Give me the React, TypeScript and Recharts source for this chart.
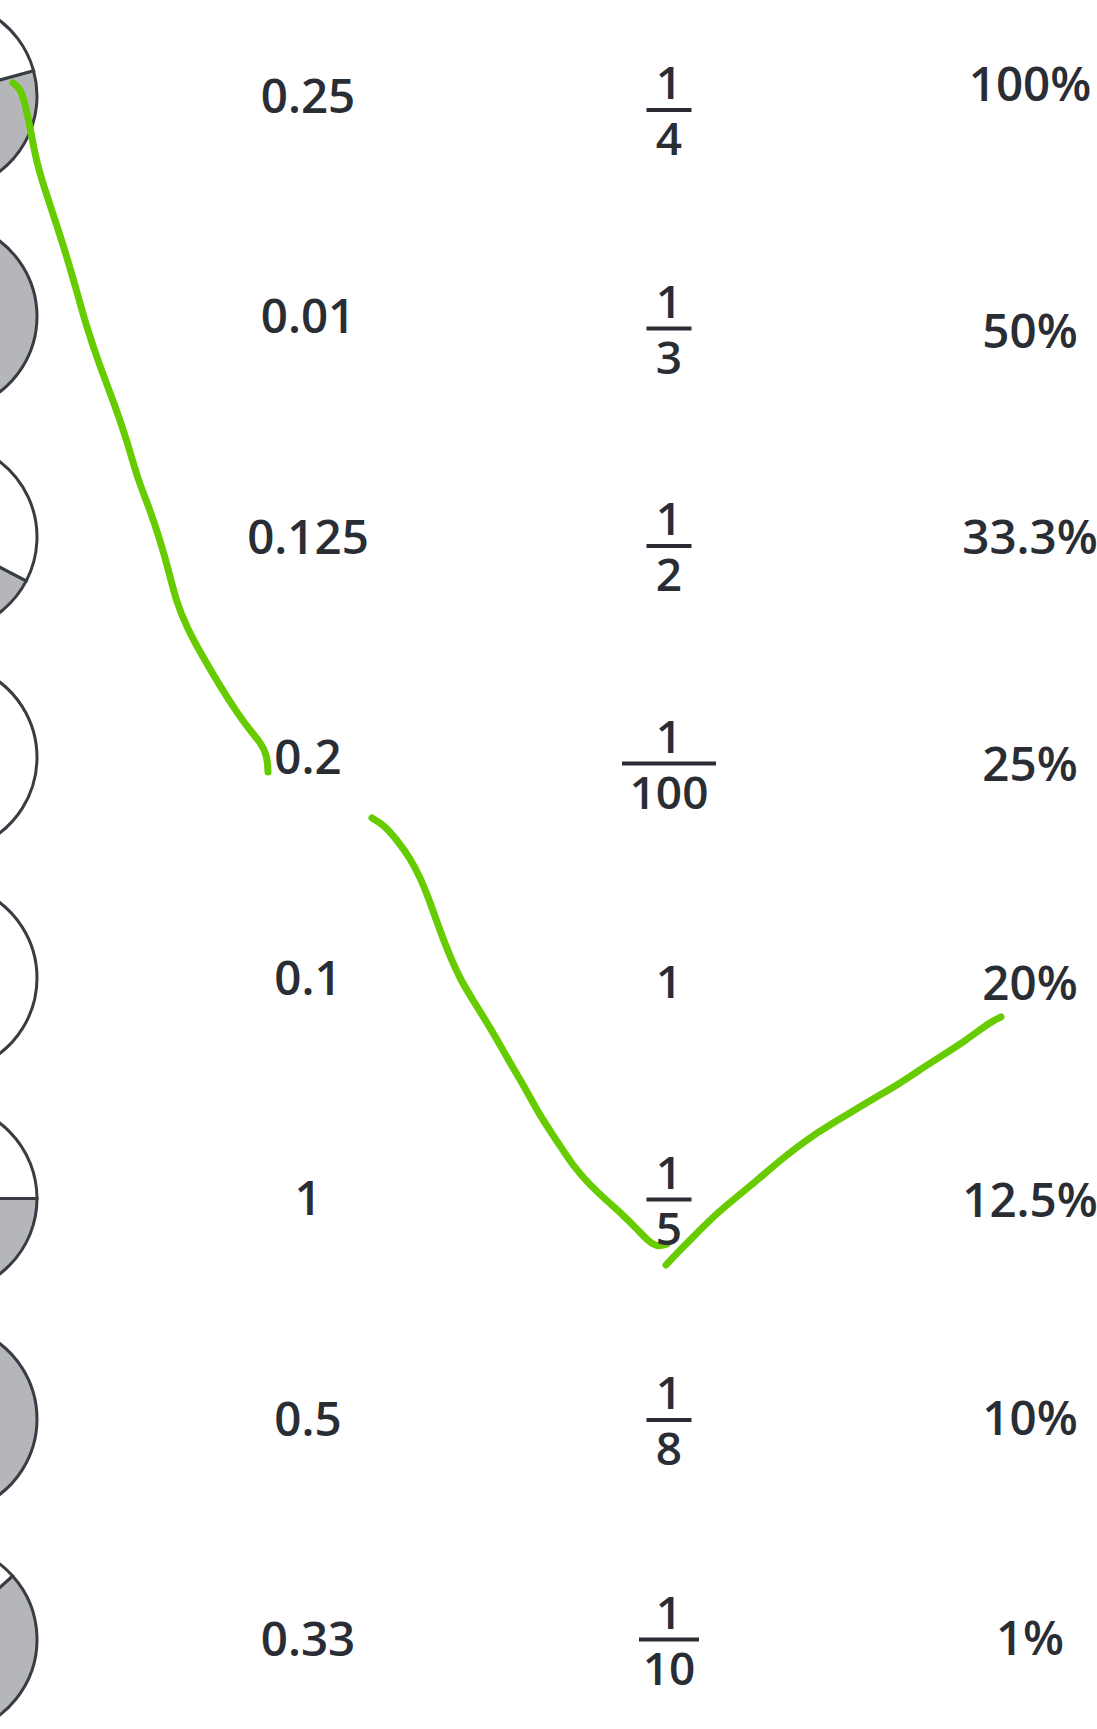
import React from 'react';
import { PieChart, Pie, Cell, ComposedChart, Line, Scatter, XAxis, YAxis } from 'recharts';

const WIDTH = 1097;
const HEIGHT = 1729;

// ---------- data ----------
const decimals = ['0.25', '0.01', '0.125', '0.2', '0.1', '1', '0.5', '0.33'];
const numerators = ['1', '1', '1', '1', '1', '1', '1', '1'];
const denominators = ['4', '3', '2', '100', '', '5', '8', '10']; // '' = whole number
const percents = ['100%', '50%', '33.3%', '25%', '20%', '12.5%', '10%', '1%'];
const shadedShare = [0.75, 1, 0.125, 0, 0, 0.5, 1, 0.67];

// hand-drawn green strokes (page units)
const strokeA = [
  { x: 13, y: 83 }, { x: 20, y: 88 }, { x: 25, y: 103 }, { x: 30, y: 127 }, { x: 36, y: 160 },
  { x: 44, y: 187 }, { x: 55, y: 220 }, { x: 66, y: 254 }, { x: 77, y: 292 }, { x: 86, y: 325 },
  { x: 99, y: 364 }, { x: 116, y: 408 }, { x: 127, y: 441 }, { x: 138, y: 480 }, { x: 149, y: 507 },
  { x: 160, y: 540 }, { x: 168, y: 568 }, { x: 176, y: 601 }, { x: 187, y: 628 }, { x: 204, y: 659 },
  { x: 220, y: 686 }, { x: 234, y: 708 }, { x: 248, y: 728 }, { x: 261, y: 743 }, { x: 267, y: 755 },
  { x: 268, y: 772 },
];
const strokeB = [
  { x: 372, y: 818 }, { x: 384, y: 825 }, { x: 397, y: 840 }, { x: 410, y: 858 }, { x: 421, y: 879 },
  { x: 430, y: 902 }, { x: 439, y: 928 }, { x: 449, y: 954 }, { x: 461, y: 981 }, { x: 476, y: 1005 },
  { x: 494, y: 1034 }, { x: 509, y: 1061 }, { x: 524, y: 1086 }, { x: 540, y: 1116 }, { x: 557, y: 1141 },
  { x: 573, y: 1166 }, { x: 590, y: 1185 }, { x: 606, y: 1200 }, { x: 623, y: 1215 }, { x: 637, y: 1229 },
  { x: 649, y: 1242 }, { x: 658, y: 1247 }, { x: 667, y: 1244 },
];
const strokeC = [
  { x: 666, y: 1265 }, { x: 678, y: 1252 }, { x: 695, y: 1235 }, { x: 714, y: 1216 }, { x: 733, y: 1200 },
  { x: 755, y: 1182 }, { x: 777, y: 1163 }, { x: 796, y: 1148 }, { x: 818, y: 1132 }, { x: 843, y: 1117 },
  { x: 871, y: 1100 }, { x: 899, y: 1084 }, { x: 921, y: 1069 }, { x: 943, y: 1055 }, { x: 965, y: 1041 },
  { x: 985, y: 1026 }, { x: 993, y: 1021 }, { x: 1001, y: 1017 },
];

// ---------- layout ----------
const ROW_TOP = 96;
const ROW_STEP = 220.5;
const COL_LEFT = 308;
const COL_STEP = 361;
const CIRCLE_CX = -58;
const CIRCLE_R = 95;
const SHADE_FROM = [15.5, 180, -27.5, 180, 180, 0, 180, 42];
const FRACTION_DY = [14, 12, 9, 6, 4, 1, 1, 0];
const PERCENT_DY = [-12, 15, 0, 7, 5, 2, -1, -1];
const BAR_WIDTH: Record<number, number> = { 1: 45, 2: 60, 3: 94 };

const TEXT_COLOR = '#2a2d34';
const FONT = '"Open Sans", "DejaVu Sans", sans-serif';
const FS = 47.5;
const FS_FRAC = 46;
const GREEN = '#66cc00';

const decimalRows = decimals.map((label, i) => ({ col: 0, row: i, label, idx: i }));
const fractionRows = numerators.map((num, i) => ({ col: 1, row: i, num, den: denominators[i], idx: i }));
const percentRows = percents.map((label, i) => ({ col: 2, row: i, label, idx: i }));

const xDomain = [-COL_LEFT / COL_STEP, (WIDTH - COL_LEFT) / COL_STEP];
const yDomain = [-ROW_TOP / ROW_STEP, (HEIGHT - ROW_TOP) / ROW_STEP];

const DecimalMark = (props: any) => {
  const { cx, cy, payload } = props;
  return (
    <text x={cx} y={cy + FS * 0.357} textAnchor="middle" fontFamily={FONT} fontWeight={600}
      fontSize={FS} fill={TEXT_COLOR}>{payload.label}</text>
  );
};

const PercentMark = (props: any) => {
  const { cx, cy, payload } = props;
  const y = cy + PERCENT_DY[payload.idx];
  return (
    <text x={cx} y={y + FS * 0.357} textAnchor="middle" fontFamily={FONT} fontWeight={600}
      fontSize={FS} fill={TEXT_COLOR}>{payload.label}</text>
  );
};

const FractionMark = (props: any) => {
  const { cx, cy, payload } = props;
  const y = cy + FRACTION_DY[payload.idx];
  if (!payload.den) {
    return (
      <text x={cx} y={y + FS_FRAC * 0.357} textAnchor="middle" fontFamily={FONT} fontWeight={600}
        fontSize={FS_FRAC} fill={TEXT_COLOR}>{payload.num}</text>
    );
  }
  const w = BAR_WIDTH[payload.den.length] || 45;
  return (
    <g>
      <text x={cx} y={y - 27 + FS_FRAC * 0.357} textAnchor="middle" fontFamily={FONT} fontWeight={600}
        fontSize={FS_FRAC} fill={TEXT_COLOR}>{payload.num}</text>
      <rect x={cx - w / 2} y={y - 2} width={w} height={4} fill={TEXT_COLOR} />
      <text x={cx} y={y + 29 + FS_FRAC * 0.357} textAnchor="middle" fontFamily={FONT} fontWeight={600}
        fontSize={FS_FRAC} fill={TEXT_COLOR}>{payload.den}</text>
    </g>
  );
};

export default function App() {
  return (
    <div style={{ position: 'absolute', left: 0, top: 0, width: WIDTH, height: HEIGHT, background: '#ffffff', overflow: 'hidden' }}>
      <div style={{ position: 'absolute', left: 0, top: 0 }}>
        <PieChart width={WIDTH} height={HEIGHT} margin={{ top: 0, right: 0, bottom: 0, left: 0 }}>
          {shadedShare.map((s, i) => (
            <Pie
              key={i}
              data={[{ name: 'shaded', value: s }, { name: 'clear', value: 1 - s }]}
              dataKey="value"
              cx={CIRCLE_CX}
              cy={ROW_TOP + ROW_STEP * i}
              innerRadius={0}
              outerRadius={CIRCLE_R}
              startAngle={SHADE_FROM[i]}
              endAngle={SHADE_FROM[i] - 360}
              isAnimationActive={false}
              stroke="#393c43"
              strokeWidth={3}
              label={false}
              labelLine={false}
            >
              <Cell fill="#b5b6b9" stroke="#393c43" strokeWidth={3} />
              <Cell fill="#ffffff" stroke="#393c43" strokeWidth={3} />
            </Pie>
          ))}
        </PieChart>
      </div>
      <div style={{ position: 'absolute', left: 0, top: 0 }}>
        <ComposedChart width={WIDTH} height={HEIGHT} margin={{ top: 0, right: 0, bottom: 0, left: 0 }}>
          <XAxis xAxisId="col" dataKey="col" type="number" domain={xDomain} allowDataOverflow hide />
          <YAxis yAxisId="row" dataKey="row" type="number" domain={yDomain} allowDataOverflow reversed hide />
          <XAxis xAxisId="px" dataKey="x" type="number" domain={[0, WIDTH]} allowDataOverflow hide />
          <YAxis yAxisId="px" dataKey="y" type="number" domain={[0, HEIGHT]} allowDataOverflow reversed hide />
          <Scatter xAxisId="col" yAxisId="row" data={decimalRows} shape={DecimalMark} isAnimationActive={false} />
          <Scatter xAxisId="col" yAxisId="row" data={fractionRows} shape={FractionMark} isAnimationActive={false} />
          <Scatter xAxisId="col" yAxisId="row" data={percentRows} shape={PercentMark} isAnimationActive={false} />
          {[strokeA, strokeB, strokeC].map((seg, k) => (
            <Line
              key={k}
              xAxisId="px"
              yAxisId="px"
              data={seg}
              dataKey="y"
              type="basis"
              stroke={GREEN}
              strokeWidth={7}
              strokeLinecap="round"
              strokeLinejoin="round"
              dot={false}
              activeDot={false}
              isAnimationActive={false}
            />
          ))}
        </ComposedChart>
      </div>
    </div>
  );
}
